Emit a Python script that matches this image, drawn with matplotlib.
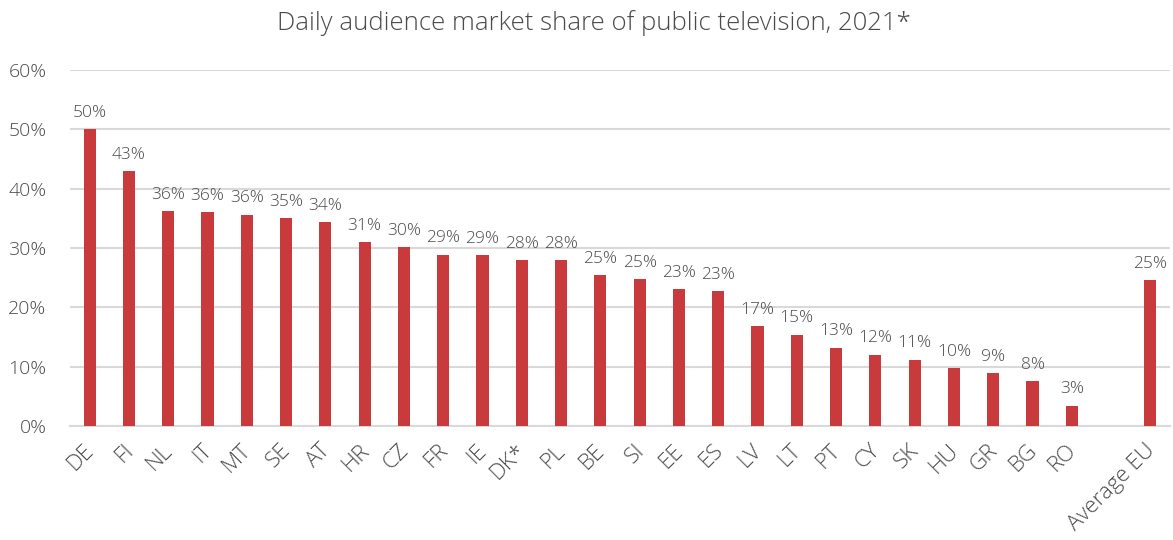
import matplotlib
matplotlib.use("Agg")
import matplotlib.pyplot as plt
from matplotlib.ticker import PercentFormatter
from matplotlib.transforms import ScaledTranslation
import numpy as np

# Daily audience market share of public television, 2021 (%)
countries = ["DE", "FI", "NL", "IT", "MT", "SE", "AT", "HR", "CZ", "FR", "IE", "DK*", "PL",
             "BE", "SI", "EE", "ES", "LV", "LT", "PT", "CY", "SK", "HU", "GR", "BG", "RO"]
shares = [50.0, 42.9, 36.2, 36.0, 35.6, 35.0, 34.4, 31.0, 30.1, 28.9, 28.8, 28.0, 27.9,
          25.4, 24.7, 23.1, 22.7, 16.8, 15.4, 13.2, 12.0, 11.2, 9.8, 8.9, 7.6, 3.4]
average_label = "Average EU"
average_share = 24.6

bar_color = "#C83A3C"
text_color = "#4A4A4A"
grid_color = "#D9D9D9"

plt.rcParams["font.family"] = ["Open Sans", "DejaVu Sans"]
plt.rcParams["font.weight"] = "light"

labels = countries + [average_label]
values = np.array(shares + [average_share]) / 100.0
positions = list(range(len(countries))) + [len(countries) + 1]

fig = plt.figure(figsize=(11.73, 5.40), dpi=100)
ax = fig.add_axes([70 / 1173, 1 - 426 / 540, 1100 / 1173, 356 / 540])

ax.bar(positions, values, width=0.31, color=bar_color, zorder=3)

for x, v in zip(positions, values):
    ax.annotate(f"{round(v * 100):.0f}%", (x, v), xytext=(0, 6), textcoords="offset points",
                ha="center", va="bottom", fontsize=12.5, color=text_color)

ax.set_xlim(-0.5, positions[-1] + 0.5)
ax.set_ylim(0, 0.6)
ax.set_yticks(np.arange(0, 0.61, 0.1))
ax.yaxis.set_major_formatter(PercentFormatter(1.0, decimals=0))
ax.grid(axis="y", color=grid_color, linewidth=1.5, zorder=0)

ax.set_xticks(positions)
ax.set_xticklabels(labels, rotation=45, ha="right", va="top", rotation_mode="anchor",
                   fontsize=16, color=text_color)
ax.tick_params(axis="x", length=0, pad=10)
ax.tick_params(axis="y", length=0, pad=17, labelsize=14, labelcolor=text_color)

# nudge the slanted category labels slightly left
shift = ScaledTranslation(-6 / 100, 0, fig.dpi_scale_trans)
for lbl in ax.get_xticklabels():
    lbl.set_transform(lbl.get_transform() + shift)

for side in ["top", "right", "left"]:
    ax.spines[side].set_visible(False)
ax.spines["bottom"].set_color(grid_color)
ax.spines["bottom"].set_linewidth(1.5)

fig.text(594 / 1173, 1 - 23 / 540, "Daily audience market share of public television, 2021*",
         ha="center", va="center", fontsize=18.5, color=text_color)

fig.savefig("out.png", dpi=100, facecolor="white")
